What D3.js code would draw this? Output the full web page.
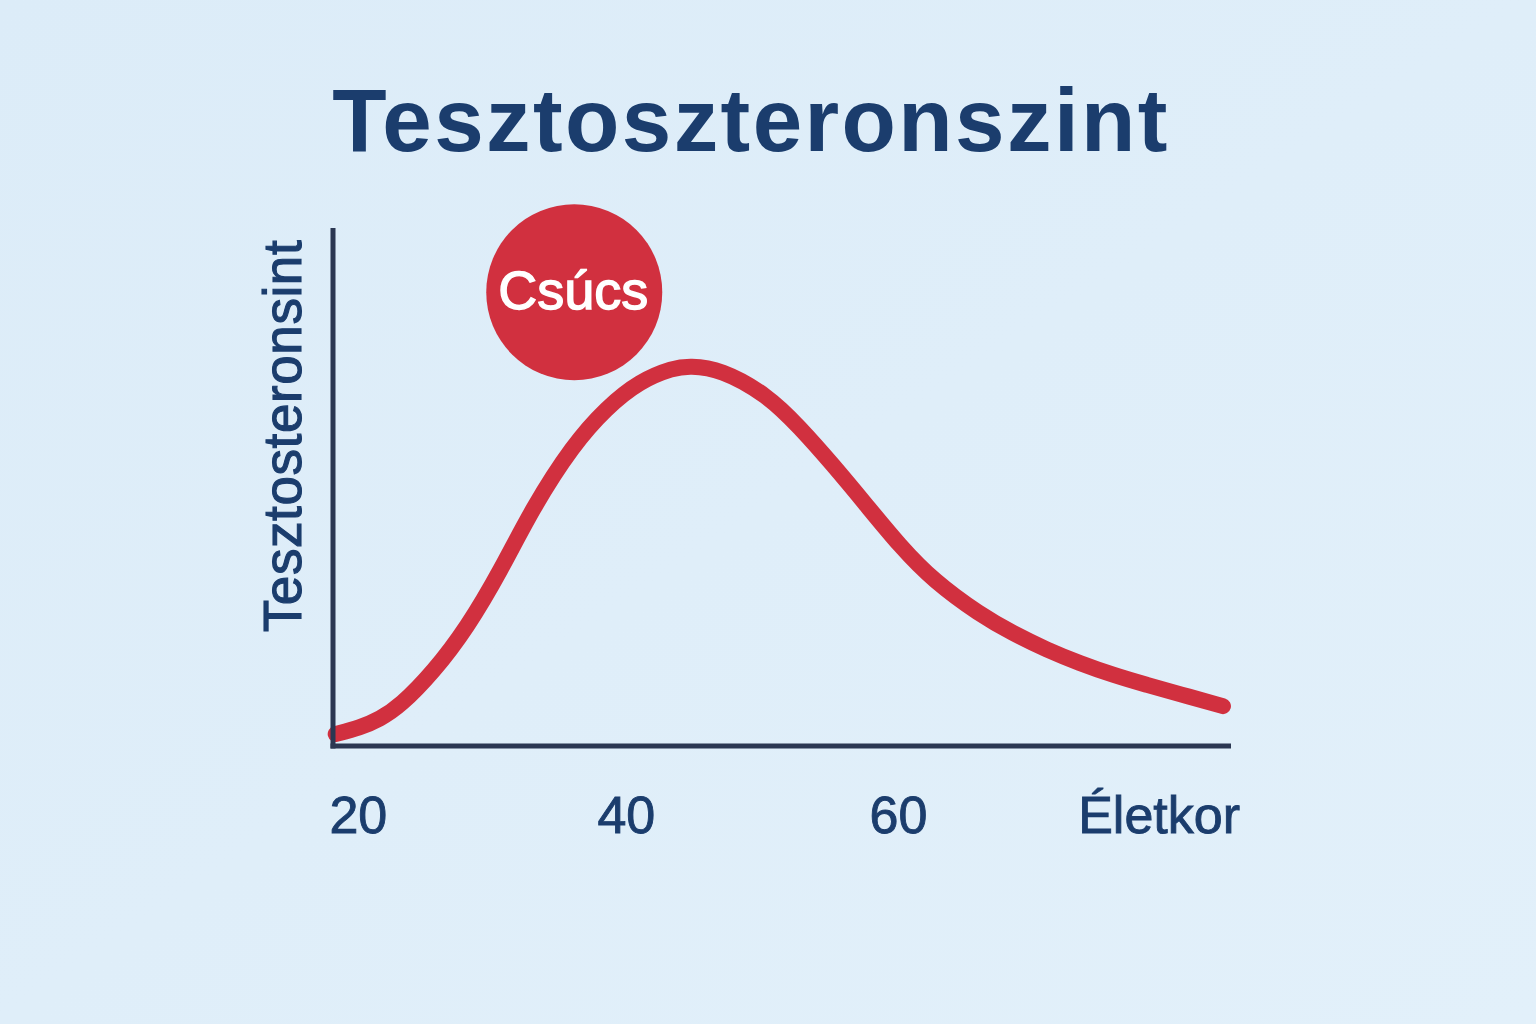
<!DOCTYPE html>
<html>
<head>
<meta charset="utf-8">
<script src="https://cdn.jsdelivr.net/npm/d3@7"></script>
<style>
  html, body { margin: 0; padding: 0; background: #deedf8; }
  svg { display: block; }
</style>
</head>
<body>
<svg id="chart" width="1536" height="1024"></svg>
<script>
// ---- data ----
const title = "Tesztoszteronszint";
const yLabel = "Tesztosteronsint";
const xLabel = "Életkor";
const peakLabel = "Csúcs";
const xTicks = [20, 40, 60];
const ages = [18.2, 20.0, 21.5, 23.0, 25.5, 28.0, 30.5, 32.9, 35.9, 38.4, 40.9, 43.4, 44.6, 46.9, 50.4, 52.8, 55.3, 57.8, 60.3, 62.8, 66.3, 68.7, 71.3, 73.7, 76.2, 78.7, 81.2, 84.4];
const levels = [2.3, 3.5, 5.2, 7.7, 14.3, 22.8, 33.8, 46.0, 58.1, 65.3, 70.5, 73.0, 73.4, 72.8, 67.8, 61.6, 54.3, 46.5, 38.6, 31.9, 25.3, 21.8, 18.5, 16.0, 13.7, 11.8, 10.0, 7.7];
const peakMarker = { age: 36.0, level: 87.6 };

// ---- drawing ----
const navy = "#1b3d6d";
const red = "#d1303f";
const svg = d3.select("#chart");

const defs = svg.append("defs");
const grad = defs.append("linearGradient").attr("id", "bg").attr("x1", 0).attr("y1", 0).attr("x2", 1).attr("y2", 1);
grad.append("stop").attr("offset", "0%").attr("stop-color", "#dcecf8");
grad.append("stop").attr("offset", "100%").attr("stop-color", "#e2f0fa");
svg.append("rect").attr("width", 1536).attr("height", 1024).attr("fill", "url(#bg)");

const x = d3.scaleLinear().domain([18, 85]).range([333, 1231]);
const y = d3.scaleLinear().domain([0, 100]).range([746, 228]);

// title
svg.append("text")
  .attr("x", 751).attr("y", 151)
  .attr("text-anchor", "middle")
  .attr("font-family", "Liberation Sans, Arial, sans-serif")
  .attr("font-weight", "bold")
  .attr("font-size", 89)
  .attr("letter-spacing", 2.4)
  .attr("fill", navy)
  .text(title);

// y label
svg.append("text")
  .attr("transform", `translate(301, 436) rotate(-90)`)
  .attr("text-anchor", "middle")
  .attr("font-family", "Liberation Sans, Arial, sans-serif")
  .attr("font-size", 53)
  .attr("letter-spacing", 0.6)
  .attr("fill", navy)
  .attr("stroke", navy)
  .attr("stroke-width", 1.1)
  .text(yLabel);

// curve
const line = d3.line()
  .x((d, i) => x(ages[i]))
  .y((d, i) => y(levels[i]))
  .curve(d3.curveBasis);

svg.append("path")
  .datum(levels)
  .attr("d", line)
  .attr("fill", "none")
  .attr("stroke", red)
  .attr("stroke-width", 16)
  .attr("stroke-linecap", "round")
  .attr("stroke-linejoin", "round");

// axes (lines without ticks)
const axisColor = "#2b3752";
svg.append("line")
  .attr("x1", x(18)).attr("x2", x(18))
  .attr("y1", y(100)).attr("y2", y(0) + 2.5)
  .attr("stroke", axisColor).attr("stroke-width", 5);
svg.append("line")
  .attr("x1", x(18) - 2.5).attr("x2", x(85))
  .attr("y1", y(0)).attr("y2", y(0))
  .attr("stroke", axisColor).attr("stroke-width", 5);

// tick labels
const xAxis = d3.axisBottom(x).tickValues(xTicks).tickSize(0).tickPadding(0);
const gx = svg.append("g").attr("transform", `translate(0, ${y(0)})`).call(xAxis);
gx.select(".domain").remove();
gx.selectAll("text")
  .attr("y", 87).attr("dy", 0)
  .attr("dx", d => d === 60 ? 2 : -2)
  .attr("font-family", "Liberation Sans, Arial, sans-serif")
  .attr("font-size", 52)
  .attr("fill", navy)
  .attr("stroke", navy)
  .attr("stroke-width", 0.9);

svg.append("text")
  .attr("x", 1240).attr("y", y(0) + 87)
  .attr("text-anchor", "end")
  .attr("font-family", "Liberation Sans, Arial, sans-serif")
  .attr("font-size", 52)
  .attr("fill", navy)
  .attr("stroke", navy)
  .attr("stroke-width", 0.9)
  .text(xLabel);

// peak marker
const cx = x(peakMarker.age), cy = y(peakMarker.level);
svg.append("circle")
  .attr("cx", cx).attr("cy", cy).attr("r", 88)
  .attr("fill", red);
svg.append("text")
  .attr("x", cx - 1).attr("y", cy + 17)
  .attr("text-anchor", "middle")
  .attr("font-family", "Liberation Sans, Arial, sans-serif")
  .attr("font-size", 54)
  .attr("fill", "#ffffff")
  .attr("stroke", "#ffffff")
  .attr("stroke-width", 1.4)
  .text(peakLabel);
</script>
</body>
</html>
